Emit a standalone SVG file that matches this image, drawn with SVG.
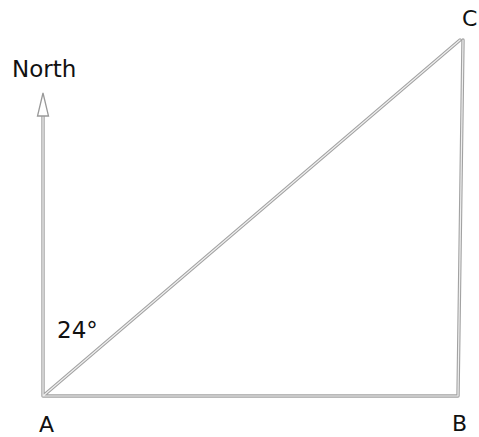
<svg xmlns="http://www.w3.org/2000/svg" width="479" height="437" viewBox="0 0 479 437">
<style>
.lbl{font-family:"DejaVu Sans",Verdana,sans-serif;font-size:22px;fill:#111}
.big{font-size:23px}
.o{stroke:#a2a2a2;stroke-width:3.4;fill:none;stroke-linecap:round;stroke-linejoin:round}
.i{stroke:#efefef;stroke-width:1.2;fill:none;stroke-linecap:round}
</style>
<rect width="479" height="437" fill="#ffffff"/>
<g id="connectors">
  <path class="o" d="M43,396 L458,396 L463,40 M43,396 L460,40 M43,396 L43,116"/>
  <path class="i" d="M43,396 L458,396 M458,396 L463,40 M43,396 L460,40 M43,396 L43,116"/>
  <polygon points="43,93 48.5,116 37.5,116" fill="#ffffff" stroke="#999" stroke-width="1.3" stroke-linejoin="miter"/>
</g>
<g id="node-north"><text class="lbl big" x="12" y="77">North</text></g>
<g id="node-angle"><text class="lbl big" x="57" y="338">24°</text></g>
<g id="node-A"><text class="lbl" x="39" y="432">A</text></g>
<g id="node-B"><text class="lbl" x="452" y="431">B</text></g>
<g id="node-C"><text class="lbl" x="462" y="26">C</text></g>
</svg>
